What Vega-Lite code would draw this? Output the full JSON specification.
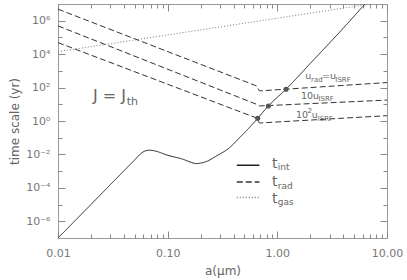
{
  "$schema": "https://vega.github.io/schema/vega-lite/v6.json",
  "width": 329,
  "height": 234,
  "autosize": {"type": "none"},
  "padding": {"left": 58, "top": 4, "right": 20, "bottom": 42},
  "background": "white",
  "config": {
    "view": {"stroke": "#999999", "strokeWidth": 1},
    "axis": {
      "labelFont": "DejaVu Sans",
      "labelFontSize": 11,
      "labelColor": "#777777",
      "titleFont": "DejaVu Sans",
      "titleFontSize": 12,
      "titleFontWeight": "normal",
      "titleColor": "#666666",
      "tickColor": "#888888",
      "tickWidth": 1,
      "domain": false,
      "grid": false,
      "labelOverlap": false,
      "labelFlush": false
    }
  },
  "datasets": {
    "curves": [
      {"series": "t_int", "grp": "int", "a": 0.01, "t": 1e-7},
      {"series": "t_int", "grp": "int", "a": 0.02, "t": 1.02e-5},
      {"series": "t_int", "grp": "int", "a": 0.03, "t": 1.55e-4},
      {"series": "t_int", "grp": "int", "a": 0.05, "t": 0.00468},
      {"series": "t_int", "grp": "int", "a": 0.057, "t": 0.0112},
      {"series": "t_int", "grp": "int", "a": 0.063, "t": 0.0166},
      {"series": "t_int", "grp": "int", "a": 0.0686, "t": 0.0178},
      {"series": "t_int", "grp": "int", "a": 0.075, "t": 0.0166},
      {"series": "t_int", "grp": "int", "a": 0.1, "t": 0.00891},
      {"series": "t_int", "grp": "int", "a": 0.138, "t": 0.00513},
      {"series": "t_int", "grp": "int", "a": 0.165, "t": 0.00331},
      {"series": "t_int", "grp": "int", "a": 0.182, "t": 0.00282},
      {"series": "t_int", "grp": "int", "a": 0.2, "t": 0.00302},
      {"series": "t_int", "grp": "int", "a": 0.232, "t": 0.00407},
      {"series": "t_int", "grp": "int", "a": 0.277, "t": 0.00794},
      {"series": "t_int", "grp": "int", "a": 0.366, "t": 0.0251},
      {"series": "t_int", "grp": "int", "a": 0.452, "t": 0.1},
      {"series": "t_int", "grp": "int", "a": 0.519, "t": 0.251},
      {"series": "t_int", "grp": "int", "a": 0.662, "t": 1.445},
      {"series": "t_int", "grp": "int", "a": 0.828, "t": 7.94},
      {"series": "t_int", "grp": "int", "a": 1.2, "t": 79.4},
      {"series": "t_int", "grp": "int", "a": 2, "t": 2818},
      {"series": "t_int", "grp": "int", "a": 4, "t": 363000},
      {"series": "t_int", "grp": "int", "a": 6.3, "t": 1e7},
      {"series": "t_rad", "grp": "r1", "a": 0.01, "t": 4.9e6},
      {"series": "t_rad", "grp": "r1", "a": 0.646, "t": 125.9},
      {"series": "t_rad", "grp": "r1", "a": 0.686, "t": 63.1},
      {"series": "t_rad", "grp": "r1", "a": 10, "t": 200},
      {"series": "t_rad", "grp": "r10", "a": 0.01, "t": 4.9e5},
      {"series": "t_rad", "grp": "r10", "a": 0.646, "t": 10},
      {"series": "t_rad", "grp": "r10", "a": 0.686, "t": 7.94},
      {"series": "t_rad", "grp": "r10", "a": 10, "t": 17.8},
      {"series": "t_rad", "grp": "r100", "a": 0.01, "t": 4.9e4},
      {"series": "t_rad", "grp": "r100", "a": 0.646, "t": 1.51},
      {"series": "t_rad", "grp": "r100", "a": 0.686, "t": 0.759},
      {"series": "t_rad", "grp": "r100", "a": 10, "t": 2.09},
      {"series": "t_gas", "grp": "gas", "a": 0.01, "t": 1.41e4},
      {"series": "t_gas", "grp": "gas", "a": 7.08, "t": 1e7}
    ],
    "dots": [
      {"a": 0.662, "t": 1.445},
      {"a": 0.828, "t": 7.94},
      {"a": 1.2, "t": 79.4}
    ],
    "key": [
      {"series": "t_int", "grp": "k1", "a": 0.4266, "t": 0.00222},
      {"series": "t_int", "grp": "k1", "a": 0.686, "t": 0.00222},
      {"series": "t_rad", "grp": "k2", "a": 0.4266, "t": 0.000222},
      {"series": "t_rad", "grp": "k2", "a": 0.686, "t": 0.000222},
      {"series": "t_gas", "grp": "k3", "a": 0.4266, "t": 0.0000263},
      {"series": "t_gas", "grp": "k3", "a": 0.686, "t": 0.0000263}
    ],
    "notes": [
      {"txt": "J = J", "a": 0.0208, "t": 15.76, "role": "J"},
      {"txt": "th", "a": 0.04236, "t": 9.08, "role": "Jsub"},
      {"txt": "u", "a": 1.797, "t": 327, "role": "lab"},
      {"txt": "rad", "a": 2.029, "t": 216, "role": "labsub"},
      {"txt": "=u", "a": 2.555, "t": 327, "role": "lab"},
      {"txt": "ISRF", "a": 3.382, "t": 216, "role": "labsub"},
      {"txt": "10u", "a": 1.643, "t": 19.37, "role": "lab"},
      {"txt": "ISRF", "a": 2.368, "t": 14.71, "role": "labsub"},
      {"txt": "10", "a": 1.479, "t": 1.576, "role": "lab"},
      {"txt": "2", "a": 1.886, "t": 3.013, "role": "labsub"},
      {"txt": "u", "a": 2.059, "t": 1.576, "role": "lab"},
      {"txt": "ISRF", "a": 2.334, "t": 1.071, "role": "labsub"},
      {"txt": "t", "a": 0.8951, "t": 0.00164, "role": "key"},
      {"txt": "int", "a": 1.0104, "t": 0.001164, "role": "keysub"},
      {"txt": "t", "a": 0.8951, "t": 0.0001282, "role": "key"},
      {"txt": "rad", "a": 1.0104, "t": 0.0000908, "role": "keysub"},
      {"txt": "t", "a": 0.8951, "t": 0.00001318, "role": "key"},
      {"txt": "gas", "a": 1.0104, "t": 0.00000933, "role": "keysub"}
    ]
  },
  "layer": [
    {
      "data": {"name": "curves"},
      "transform": [{"filter": "datum.series == 't_int'"}],
      "mark": {"type": "line", "interpolate": "monotone", "clip": true, "strokeWidth": 1},
      "encoding": {
        "x": {
          "field": "a", "type": "quantitative",
          "scale": {"type": "log", "domain": [0.01, 10], "nice": false},
          "axis": {
            "orient": "bottom",
            "title": "a(μm)",
            "values": [0.01, 0.1, 1, 10],
            "labelExpr": "datum.value < 0.05 ? '0.01' : datum.value < 0.5 ? '0.10' : datum.value < 5 ? '1.00' : '10.00'",
            "ticks": false,
            "labelPadding": 9,
            "titlePadding": 7
          }
        },
        "y": {
          "field": "t", "type": "quantitative",
          "scale": {"type": "log", "domain": [1e-7, 1e7], "nice": false},
          "axis": {
            "orient": "left",
            "title": "time scale (yr)",
            "values": [1e-6, 1e-4, 1e-2, 1, 100, 1e4, 1e6],
            "labelExpr": "round(log(datum.value)/LN10) == -6 ? '10⁻⁶' : round(log(datum.value)/LN10) == -4 ? '10⁻⁴' : round(log(datum.value)/LN10) == -2 ? '10⁻²' : round(log(datum.value)/LN10) == 0 ? '10⁰' : round(log(datum.value)/LN10) == 2 ? '10²' : round(log(datum.value)/LN10) == 4 ? '10⁴' : '10⁶'",
            "ticks": false,
            "labelPadding": 8,
            "titlePadding": 4
          }
        },
        "color": {"field": "series", "type": "nominal", "scale": {"domain": ["t_int", "t_rad", "t_gas"], "range": ["#222222", "#333333", "#7a7a7a"]}, "legend": null},
        "strokeDash": {"field": "series", "type": "nominal", "scale": {"domain": ["t_int", "t_rad", "t_gas"], "range": [[1, 0], [6, 3], [1, 2]]}, "legend": null},
        "detail": {"field": "grp"}
      }
    },
    {
      "data": {"name": "curves"},
      "transform": [{"filter": "datum.series != 't_int'"}],
      "mark": {"type": "line", "interpolate": "linear", "clip": true, "strokeWidth": 1},
      "encoding": {
        "x": {
          "field": "a", "type": "quantitative",
          "axis": {
            "orient": "top", "title": null, "labels": false,
            "values": [0.01, 0.02, 0.03, 0.04, 0.05, 0.06, 0.07, 0.08, 0.09, 0.1, 0.2, 0.3, 0.4, 0.5, 0.6, 0.7, 0.8, 0.9, 1, 2, 3, 4, 5, 6, 7, 8, 9, 10],
            "tickSize": {"condition": {"test": "abs(log(datum.value)/LN10 - round(log(datum.value)/LN10)) < 0.01", "value": -7}, "value": -4}
          }
        },
        "y": {
          "field": "t", "type": "quantitative",
          "axis": {
            "orient": "right", "title": null, "labels": false,
            "values": [1e-6, 1e-5, 1e-4, 1e-3, 1e-2, 1e-1, 1, 10, 100, 1000, 1e4, 1e5, 1e6],
            "tickSize": {"condition": {"test": "round(log(datum.value)/LN10) % 2 == 0", "value": -7}, "value": -4}
          }
        },
        "color": {"field": "series", "type": "nominal", "legend": null},
        "strokeDash": {"field": "series", "type": "nominal", "legend": null},
        "detail": {"field": "grp"}
      }
    },
    {
      "data": {"name": "dots"},
      "mark": {"type": "circle", "size": 26, "color": "#555555", "opacity": 1},
      "encoding": {
        "x": {
          "field": "a", "type": "quantitative",
          "axis": {
            "orient": "bottom", "title": null, "labels": false,
            "values": [0.01, 0.02, 0.03, 0.04, 0.05, 0.06, 0.07, 0.08, 0.09, 0.1, 0.2, 0.3, 0.4, 0.5, 0.6, 0.7, 0.8, 0.9, 1, 2, 3, 4, 5, 6, 7, 8, 9, 10],
            "tickSize": {"condition": {"test": "abs(log(datum.value)/LN10 - round(log(datum.value)/LN10)) < 0.01", "value": -7}, "value": -4}
          }
        },
        "y": {
          "field": "t", "type": "quantitative",
          "axis": {
            "orient": "left", "title": null, "labels": false,
            "values": [1e-6, 1e-5, 1e-4, 1e-3, 1e-2, 1e-1, 1, 10, 100, 1000, 1e4, 1e5, 1e6],
            "tickSize": {"condition": {"test": "round(log(datum.value)/LN10) % 2 == 0", "value": -7}, "value": -4}
          }
        }
      }
    },
    {
      "data": {"name": "key"},
      "mark": {"type": "line", "strokeWidth": 1.5},
      "encoding": {
        "x": {"field": "a", "type": "quantitative", "axis": null},
        "y": {"field": "t", "type": "quantitative", "axis": null},
        "color": {"field": "series", "type": "nominal", "legend": null},
        "strokeDash": {"field": "series", "type": "nominal", "legend": null},
        "detail": {"field": "grp"}
      }
    },
    {
      "data": {"name": "notes"},
      "mark": {"type": "text", "align": "left", "baseline": "alphabetic", "font": "DejaVu Sans", "color": "#666666"},
      "encoding": {
        "x": {"field": "a", "type": "quantitative", "axis": null},
        "y": {"field": "t", "type": "quantitative", "axis": null},
        "text": {"field": "txt"},
        "size": {"field": "role", "type": "nominal", "scale": {"type": "ordinal", "domain": ["J", "Jsub", "lab", "labsub", "key", "keysub"], "range": [16, 11, 9.5, 7, 14, 9]}, "legend": null}
      }
    }
  ],
  "resolve": {"axis": {"x": "independent", "y": "independent"}}
}
